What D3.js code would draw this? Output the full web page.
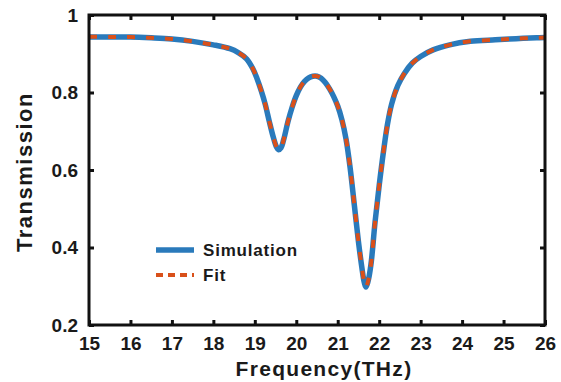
<!DOCTYPE html>
<html>
<head>
<meta charset="utf-8">
<script src="https://cdn.jsdelivr.net/npm/d3@7"></script>
<style>
  body { margin: 0; background: #fff; }
  svg text { font-family: "Liberation Sans", Arial, sans-serif; font-weight: bold; fill: #1a1a1a; }
</style>
</head>
<body>
<svg id="chart" width="561" height="382"></svg>
<script>
// Frequency (THz)
const freq = [15.0, 15.5, 16.0, 16.5, 17.0, 17.5, 18.0, 18.4, 18.6, 18.8, 18.95, 19.05, 19.15, 19.25, 19.35,
  19.45, 19.52, 19.57, 19.63, 19.7, 19.8, 19.9, 20.0, 20.1, 20.2, 20.3, 20.4, 20.5, 20.6, 20.7, 20.8, 20.9,
  21.0, 21.1, 21.2, 21.3, 21.4, 21.5, 21.58, 21.64, 21.68, 21.73, 21.8, 21.9, 22.0, 22.1, 22.2, 22.3, 22.45,
  22.6, 22.8, 23.0, 23.3, 23.7, 24.2, 24.8, 25.3, 25.8, 26.0];

// Simulated transmission
const simulation = [0.943, 0.943, 0.943, 0.941, 0.938, 0.932, 0.923, 0.913, 0.903, 0.887, 0.862, 0.837, 0.806,
  0.770, 0.725, 0.683, 0.660, 0.652, 0.657, 0.680, 0.725, 0.762, 0.792, 0.814, 0.829, 0.838, 0.842, 0.842,
  0.837, 0.826, 0.810, 0.790, 0.765, 0.730, 0.680, 0.605, 0.510, 0.415, 0.350, 0.310, 0.298, 0.312, 0.355,
  0.465, 0.560, 0.645, 0.718, 0.770, 0.818, 0.848, 0.876, 0.893, 0.910, 0.923, 0.932, 0.936, 0.939, 0.941, 0.942];

// Fitted transmission (lies on top of the simulation)
const fit = [0.944, 0.943, 0.943, 0.941, 0.938, 0.932, 0.923, 0.913, 0.903, 0.887, 0.862, 0.837, 0.806,
  0.770, 0.725, 0.683, 0.660, 0.652, 0.657, 0.680, 0.725, 0.762, 0.792, 0.814, 0.829, 0.838, 0.842, 0.842,
  0.837, 0.826, 0.810, 0.790, 0.765, 0.730, 0.680, 0.605, 0.510, 0.415, 0.350, 0.310, 0.298, 0.312, 0.355,
  0.465, 0.560, 0.645, 0.718, 0.770, 0.818, 0.848, 0.876, 0.893, 0.910, 0.923, 0.932, 0.936, 0.939, 0.941, 0.942];

const xTicks = [15, 16, 17, 18, 19, 20, 21, 22, 23, 24, 25, 26];
const yTicks = [0.2, 0.4, 0.6, 0.8, 1];
const seriesNames = ["Simulation", "Fit"];

const svg = d3.select("#chart");
const margin = { top: 15, right: 16, bottom: 57, left: 89 };
const w = 561 - margin.left - margin.right;
const h = 382 - margin.top - margin.bottom;

const x = d3.scaleLinear().domain([15, 26]).range([0, w]);
const y = d3.scaleLinear().domain([0.2, 1]).range([h, 0]);

const g = svg.append("g").attr("transform", `translate(${margin.left},${margin.top})`);

// Lines
const line = d3.line()
  .x(d => x(d[0]))
  .y(d => y(d[1]))
  .curve(d3.curveCatmullRom.alpha(0.5));

g.append("path")
  .datum(freq.map((f, i) => [f, simulation[i]]))
  .attr("fill", "none")
  .attr("stroke", "#2a7abb")
  .attr("stroke-width", 5.5)
  .attr("d", line);

g.append("path")
  .datum(freq.map((f, i) => [f, fit[i]]))
  .attr("fill", "none")
  .attr("stroke", "#d9501a")
  .attr("stroke-width", 4)
  .attr("stroke-dasharray", "8,11")
  .attr("d", line);

// Axes (ticks inside, mirrored on top/right)
const tickStyle = sel => {
  sel.select(".domain").remove();
  sel.selectAll(".tick line").attr("stroke", "#111").attr("stroke-width", 3);
  sel.selectAll(".tick text").attr("font-size", 19).attr("fill", "#1a1a1a");
};

g.append("g")
  .attr("transform", `translate(0,${h})`)
  .call(d3.axisBottom(x).tickValues(xTicks).tickSize(-5).tickPadding(12).tickFormat(d3.format("d")))
  .call(tickStyle);

g.append("g")
  .call(d3.axisTop(x).tickValues(xTicks).tickSize(-5).tickFormat(""))
  .call(tickStyle);

g.append("g")
  .call(d3.axisLeft(y).tickValues(yTicks).tickSize(-5).tickPadding(11).tickFormat(d => d === 1 ? "1" : d3.format(".1f")(d)))
  .call(tickStyle);

g.append("g")
  .attr("transform", `translate(${w},0)`)
  .call(d3.axisRight(y).tickValues(yTicks).tickSize(-5).tickFormat(""))
  .call(tickStyle);

// Frame
g.append("rect")
  .attr("width", w)
  .attr("height", h)
  .attr("fill", "none")
  .attr("stroke", "#111")
  .attr("stroke-width", 3);

// Axis titles
svg.append("text")
  .attr("x", 324)
  .attr("y", 376)
  .attr("text-anchor", "middle")
  .attr("font-size", 21)
  .attr("letter-spacing", 1.3)
  .text("Frequency(THz)");

svg.append("text")
  .attr("transform", `translate(32,${margin.top + h / 2 + 2}) rotate(-90)`)
  .attr("text-anchor", "middle")
  .attr("font-size", 22)
  .attr("letter-spacing", 1.5)
  .text("Transmission");

// Legend
const legend = g.append("g").attr("transform", `translate(${156 - margin.left},${250 - margin.top})`);
seriesNames.forEach((name, i) => {
  const row = legend.append("g").attr("transform", `translate(0,${i * 25})`);
  row.append("line")
    .attr("x1", 0).attr("x2", 38)
    .attr("stroke", i === 0 ? "#2a7abb" : "#d9501a")
    .attr("stroke-width", i === 0 ? 5.5 : 4)
    .attr("stroke-dasharray", i === 0 ? null : "7,5");
  row.append("text")
    .attr("x", 47)
    .attr("y", 6)
    .attr("font-size", 17)
    .attr("letter-spacing", 0.8)
    .text(name);
});
</script>
</body>
</html>
